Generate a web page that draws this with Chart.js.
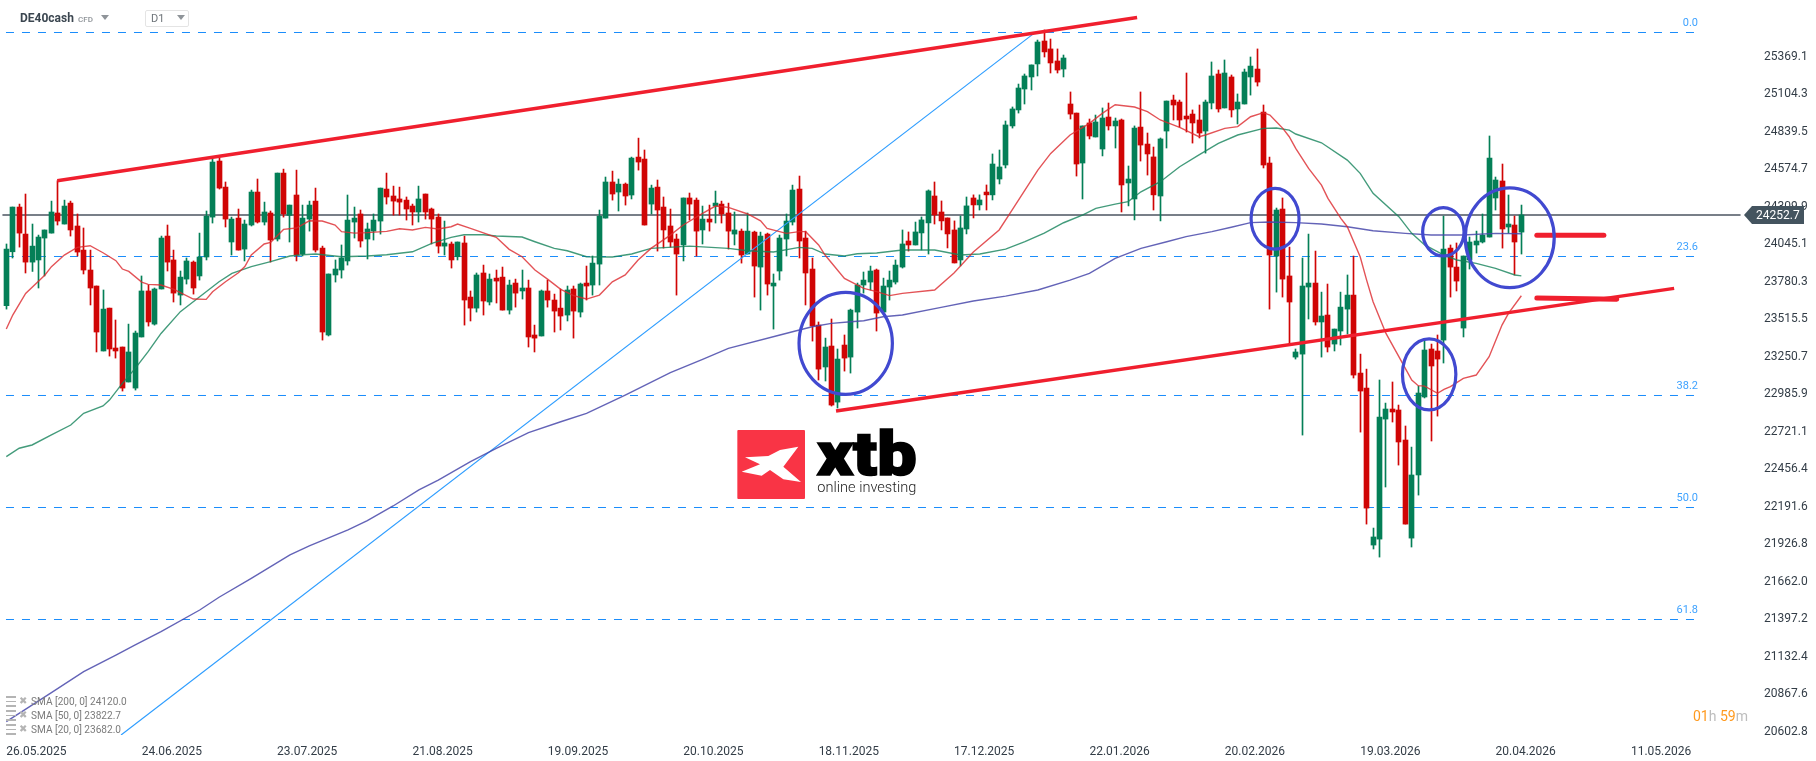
<!DOCTYPE html>
<html>
<head>
<meta charset="utf-8">
<title>DE40cash D1</title>
<script src="https://cdn.jsdelivr.net/npm/chart.js@4"></script>
<style>
  html, body { margin: 0; padding: 0; background: #fff; overflow: hidden; font-family: Roboto, sans-serif; }
  #wrap { position: relative; width: 1816px; height: 761px; }
  canvas { position: absolute; left: 0; top: 0; }
  .abs { position: absolute; white-space: nowrap; }
  .tri { position: absolute; width: 0; height: 0; border-left: 4px solid transparent; border-right: 4px solid transparent; border-top: 5px solid #8f9499; }
  .sma { position: absolute; left: 31px; font-size: 10.1px; line-height: 12px; color: #7b7b7b; white-space: nowrap; }
  .ico { position: absolute; left: 6px; width: 10px; height: 7px; border-top: 2px solid #b4b4b4; border-bottom: 2px solid #b4b4b4; background: linear-gradient(#b4b4b4, #b4b4b4) center / 100% 1px no-repeat; }
  .cross { position: absolute; left: 19px; font-size: 10px; line-height: 12px; color: #b4b4b4; }
</style>
</head>
<body>
<div id="wrap">
  <canvas id="chart" width="1816" height="761"></canvas>

  <div class="abs" style="left:20px;top:11px;font-size:12px;font-weight:700;color:#3b4650;">DE40cash</div>
  <div class="abs" style="left:78px;top:15px;font-size:8px;font-weight:500;color:#8f9499;">CFD</div>
  <div class="tri" style="left:101px;top:15px;"></div>
  <div class="abs" style="left:145px;top:10px;width:42px;height:15px;border:1px solid #e4e4e4;border-radius:2px;"></div>
  <div class="abs" style="left:151px;top:12px;font-size:11px;color:#6f757a;">D1</div>
  <div class="tri" style="left:177px;top:15px;"></div>

  <div class="ico" style="top:696px;"></div><div class="cross" style="top:695px;">✖</div>
  <div class="sma" style="top:696px;">SMA [200, 0] 24120.0</div>
  <div class="ico" style="top:710px;"></div><div class="cross" style="top:709px;">✖</div>
  <div class="sma" style="top:710px;">SMA [50, 0] 23822.7</div>
  <div class="ico" style="top:724px;"></div><div class="cross" style="top:723px;">✖</div>
  <div class="sma" style="top:724px;">SMA [20, 0] 23682.0</div>

  <div class="abs" style="left:1693px;top:707px;font-size:14px;line-height:18px;color:#bdbdbd;"><span style="color:#ff9a1f">01</span>h <span style="color:#ff9a1f">59</span>m</div>

  <svg class="abs" style="left:720px;top:420px;" width="220" height="90" viewBox="0 0 660 270">
    <rect x="52" y="30" width="203" height="207" rx="3" fill="#f93445"/>
    <polygon fill="#fff" points="235,80 190,140 243,186 190,178 150,150 125,167 65,155 120,133 75,112 145,108 180,90"/>
    <text x="291" y="165" font-family="Roboto, sans-serif" font-weight="900" font-size="182" textLength="299" lengthAdjust="spacingAndGlyphs" stroke="#000" stroke-width="5" fill="#000">xtb</text>
    <text x="292" y="216" font-family="Roboto, sans-serif" font-weight="300" font-size="44" textLength="297" lengthAdjust="spacingAndGlyphs" fill="#222">online investing</text>
  </svg>
</div>

<script>
const opens = [
  23612,23993,24309,24118,23920,23935,24090,24125,24267,24189,
  24337,24175,24005,23864,23751,23292,23595,23313,23320,23073,
  23030,23391,23716,23482,23730,24104,23935,23687,23800,23920,
  23822,23956,24238,24634,24450,24062,24231,24012,24182,24415,
  24203,24267,24083,24549,24250,24394,23977,24224,24351,24019,
  23405,23829,23864,23928,24203,24260,24083,24139,24210,24436,
  24387,24366,24358,24316,24274,24401,24295,24238,24033,24048,
  23958,24055,23673,23595,23843,23638,23807,23814,23581,23772,
  23716,23737,23405,23398,23716,23652,23595,23546,23730,23567,
  23772,23758,23906,24231,24486,24415,24471,24394,24662,24648,
  24330,24450,24309,24175,24083,24041,24373,24358,24147,24224,
  24316,24330,24267,24118,24139,23977,24132,23885,24118,23751,
  23857,24083,24203,24436,24090,23871,23475,23179,23327,22931,
  23334,23249,23567,23758,23779,23864,23567,23744,23779,23885,
  24069,24041,24126,24197,24387,24274,24232,24147,23935,24154,
  24373,24324,24415,24395,24507,24606,24882,24995,25143,25228,
  25320,25482,25426,25341,25284,25037,24973,24620,24903,24804,
  24719,24945,24882,24924,24479,24366,24874,24754,24663,24387,
  24846,25065,25051,24952,24966,24924,24846,25044,25249,25009,
  25228,25002,25037,25228,25284,24980,24620,23963,24295,23822,
  23249,23270,23744,23772,23497,23546,23341,23433,23588,23687,
  23136,23030,21921,21963,22811,22882,22875,22663,21970,22416,
  22967,23306,23292,23369,24019,23885,23454,23935,24041,24062,
  24097,24373,24493,24168,24182,24132
];
const highs = [
  24048,24309,24330,24401,24189,24111,24147,24351,24495,24358,
  24351,24260,24161,24005,23751,23723,23595,23511,23320,23482,
  23433,23822,23758,23737,24104,24182,24005,23857,23949,23928,
  24125,24281,24648,24655,24486,24238,24295,24217,24429,24507,
  24344,24281,24549,24577,24323,24570,24323,24351,24443,24033,
  23836,23935,24041,24394,24309,24288,24196,24260,24443,24549,
  24457,24450,24380,24330,24457,24401,24302,24260,24210,24062,
  24062,24104,23716,23843,23899,23836,23864,23885,23793,23800,
  23864,23793,23475,23723,23793,23694,23730,23751,23751,23772,
  23892,23963,24288,24521,24563,24507,24479,24662,24796,24712,
  24464,24500,24380,24295,24118,24373,24408,24373,24316,24323,
  24422,24351,24337,24274,24154,24267,24139,24132,24125,23836,
  24111,24260,24464,24528,24139,23949,23497,23383,23518,23306,
  23405,23588,23772,23850,23892,23871,23807,23857,23935,24147,
  24133,24203,24239,24430,24486,24352,24232,24211,24246,24380,
  24395,24395,24465,24684,24712,24917,25016,25178,25249,25313,
  25489,25560,25496,25426,25383,25122,24973,24882,24931,24959,
  25009,25044,24938,24931,24599,24882,25122,24832,24733,24797,
  25058,25100,25065,25256,24995,25030,25065,25334,25277,25348,
  25242,25108,25284,25369,25426,25030,24662,24302,24373,24026,
  23306,23949,24118,23998,23708,23765,23447,23708,23829,23963,
  23270,23164,22041,23087,22924,23073,22910,22762,22613,23044,
  23369,23341,23405,24245,24041,24055,23963,24097,24139,24260,
  24811,24521,24613,24394,24245,24323
];
const lows = [
  23588,23949,24026,23843,23854,23737,23822,24125,24182,24189,
  24104,23963,23836,23617,23285,23292,23256,23242,23009,23073,
  23016,23391,23468,23475,23730,23857,23638,23617,23765,23694,
  23793,23935,24196,24436,24168,23970,24005,23928,24175,24196,
  24182,23920,24069,24238,24062,23928,23963,24139,23991,23369,
  23398,23779,23807,23899,24090,24026,23942,24076,24118,24330,
  24252,24252,24217,24182,24203,24224,24048,23984,23970,23878,
  23935,23475,23504,23567,23546,23617,23631,23581,23553,23602,
  23659,23320,23285,23398,23602,23426,23440,23504,23383,23532,
  23652,23687,23758,24231,24358,24281,24323,24366,24570,24182,
  24260,23998,24019,24026,23687,23928,24217,23963,24048,24139,
  24196,24196,24012,24041,23913,23977,23673,23581,23687,23447,
  23793,23963,24182,23949,23617,23362,23087,23080,22903,22889,
  23150,23136,23454,23701,23723,23433,23567,23652,23765,23878,
  23998,24041,24006,23977,24189,24147,24020,23914,23893,24119,
  24232,24288,24288,24359,24472,24585,24867,24973,25037,25136,
  25235,25369,25256,25256,25228,24931,24528,24366,24790,24804,
  24670,24853,24726,24274,24317,24218,24634,24535,24288,24211,
  24726,24924,24874,24839,24761,24797,24690,25002,24980,25009,
  24945,24896,25037,25100,25164,24585,23588,23708,23673,23341,
  23235,22698,23518,23475,23249,23285,23292,23334,23412,23101,
  22719,22069,21893,21836,22331,22790,22486,22069,21907,22274,
  22960,22656,22832,23207,23673,23716,23391,23871,23984,24055,
  24097,24288,24019,24125,23829,23977
];
const closes = [
  24012,24309,24125,23920,24033,24097,24147,24274,24210,24316,
  24147,23991,23864,23737,23426,23588,23306,23292,23030,23285,
  23419,23716,23497,23730,24090,23920,23701,23814,23928,23737,
  23956,24245,24627,24443,24224,24224,24005,24189,24415,24203,
  24274,24076,24549,24260,24323,23970,24231,24323,24005,23426,
  23836,23871,23949,24217,24231,24069,24154,24217,24443,24380,
  24351,24344,24295,24274,24366,24274,24224,24033,24055,23935,
  24062,23652,23595,23829,23645,23800,23786,23581,23758,23701,
  23737,23391,23383,23716,23652,23574,23539,23723,23574,23765,
  23751,23913,24245,24486,24401,24471,24387,24655,24627,24182,
  24443,24288,24147,24062,23977,24373,24330,24139,24224,24203,
  24337,24260,24139,24147,23970,24139,23892,24104,23765,23772,
  24090,24210,24429,24069,23843,23468,23164,23320,22910,23235,
  23242,23581,23758,23793,23857,23560,23751,23793,23899,24048,
  24041,24133,24218,24423,24253,24211,24119,23914,24161,24317,
  24324,24359,24395,24613,24592,24889,25002,25150,25235,25313,
  25475,25405,25327,25277,25362,24966,24613,24882,24811,24910,
  24938,24882,24917,24465,24507,24867,24747,24684,24395,24790,
  25058,25030,24924,24931,24903,24832,25051,25235,25002,25256,
  24995,25051,25263,25305,25192,24606,23970,24288,23800,23638,
  23285,23751,23772,23497,23539,23320,23447,23602,23687,23122,
  23009,22182,21978,22825,22882,22861,22649,22069,22416,22995,
  23299,23186,23235,24012,23885,23786,23963,24062,24069,24111,
  24655,24500,24154,24189,24062,24253
];

// moving averages at the bars listed in the *Idx arrays
const sma20Idx = [0,1,3,6,7,9,11,13,15,17,18,19,21,22,24,26,29,31,32,34,36,37,38,40,41,43,45,47,49,51,52,54,56,59,61,63,65,67,69,70,72,76,78,80,82,84,86,88,90,92,94,96,98,100,103,105,108,110,112,115,117,118,121,123,124,126,127,130,133,135,137,139,144,147,150,154,156,158,160,162,165,168,170,172,175,177,179,182,185,186,189,191,193,195,196,197,198,199,200,202,204,205,207,208,210,211,212,214,216,218,219,220,222,223,224,226,228,230,232,233,235];
const sma20Values = [23447,23546,23699,23829,23888,23970,24024,24036,23986,23930,23871,23854,23779,23763,23758,23727,23659,23657,23711,23781,23845,23888,23970,24048,24059,24151,24161,24212,24210,24182,24135,24125,24128,24137,24156,24147,24165,24154,24170,24189,24158,24095,24010,23958,23864,23798,23727,23683,23659,23687,23781,23829,23935,24017,24111,24182,24264,24316,24307,24260,24212,24158,24123,24135,24135,24041,23970,23805,23734,23711,23683,23699,23723,23843,23991,24147,24288,24429,24570,24688,24818,24900,24971,25032,25016,24983,24924,24872,24806,24818,24865,24877,24947,24976,24959,24912,24865,24806,24723,24582,24464,24370,24229,24170,23958,23793,23640,23416,23252,23087,23047,23044,22993,23021,23040,23098,23122,23252,23475,23558,23682];

const sma50Idx = [0,2,4,7,10,12,15,16,18,20,22,24,27,30,33,35,38,41,44,46,48,52,56,59,63,66,69,71,74,76,80,82,85,87,90,94,97,100,106,112,115,119,123,125,127,130,132,135,139,144,148,151,155,158,161,164,167,169,172,174,176,179,182,185,188,191,195,197,199,200,204,208,210,212,216,218,220,223,225,228,231,234,235];
const sma50Values = [22546,22605,22628,22699,22769,22852,22904,22945,23063,23169,23287,23416,23570,23675,23781,23840,23888,23923,23963,23972,23977,23958,23963,23972,23993,24052,24095,24113,24113,24104,24097,24064,24017,24000,23958,23956,23977,24017,24033,24017,24000,23991,24024,24017,23977,23963,23979,23984,24005,24005,23970,23977,24012,24064,24125,24198,24253,24300,24330,24347,24417,24488,24594,24677,24759,24818,24865,24867,24853,24825,24763,24641,24547,24406,24241,24123,24041,23970,23935,23911,23876,23829,23823];

const sma200Idx = [0,7,12,17,20,24,30,33,38,44,47,53,56,60,64,67,72,76,81,86,90,96,103,108,112,120,123,125,128,131,133,136,139,145,150,155,160,165,168,172,176,180,183,187,190,193,196,200,204,208,212,217,221,226,231,235];
const sma200Values = [20673,20878,21027,21144,21215,21309,21462,21552,21686,21851,21915,22028,22093,22197,22310,22380,22510,22604,22715,22792,22851,22981,23139,23233,23310,23405,23440,23463,23487,23499,23506,23534,23546,23600,23645,23680,23723,23793,23840,23947,24017,24064,24100,24135,24166,24199,24203,24199,24189,24170,24142,24123,24111,24111,24123,24120];

const fibLevels = ['0.0', '23.6', '38.2', '50.0', '61.8'];
const fibPrices = [25542.2, 23959.6, 22977.6, 22186.2, 21394.9];
const lastPrice = 24252.7;

const yTicks = [25369.1,25104.3,24839.5,24574.7,24309.9,24045.1,23780.3,23515.5,23250.7,22985.9,22721.1,22456.4,22191.6,21926.8,21662.0,21397.2,21132.4,20867.6,20602.8];
const xTicks = [0,21,42,63,84,105,126,147,168,189,210,231,252];
const xLabels = ['26.05.2025','24.06.2025','23.07.2025','21.08.2025','19.09.2025','20.10.2025','18.11.2025','17.12.2025','22.01.2026','20.02.2026','19.03.2026','20.04.2026','11.05.2026'];

// hand drawn bits of the chart, [bar, price]
const upperTrend = [[7.9, 24495], [175.4, 25648]];
const lowerTrend = [[128.7, 22868], [258.7, 23734]];
const fibDiagonal = [[17.8, 20579], [159.6, 25543]];
const markOne = [[237.4, 24109], [247.8, 24109]];
const markTwo = [[237.4, 23666], [249.8, 23658]];
// [bar, price, radius in bars, radius in price]
const rings = [
  [130.2, 23346, 7.24, 360],
  [196.8, 24226, 3.72, 215],
  [222.9, 24134, 3.21, 171],
  [233.2, 24092, 6.9, 352],
  [220.7, 23127, 4.14, 251]
];

const GREEN = '#047f57';
const RED = '#d00505';
const candleColors = closes.map((c, i) => (c >= opens[i] ? GREEN : RED));

function zip(xs, ys) {
  return xs.map((x, i) => ({ x: x, y: ys[i] }));
}
function pts(pairs) {
  return pairs.map(p => ({ x: p[0], y: p[1] }));
}
function lineSet(data, color, width, order, extra) {
  return Object.assign({
    type: 'line', data: data, borderColor: color, borderWidth: width,
    pointRadius: 0, tension: 0, order: order
  }, extra || {});
}
// the axes must not push the plot area in, it fills the page up to the labels
function noPadding(scale) {
  scale.paddingTop = 0;
  scale.paddingBottom = 0;
  scale.paddingLeft = 0;
  scale.paddingRight = 0;
}

const datasets = [
  lineSet(pts([[-0.6, lastPrice], [269, lastPrice]]), '#4b5560', 1.4, 20),
  {
    type: 'bar', order: 12, barThickness: 1, grouped: false,
    data: candleColors.map((c, i) => ({ x: i, y: [lows[i], highs[i]] })),
    backgroundColor: candleColors
  },
  {
    type: 'bar', order: 11, barThickness: 5, grouped: false,
    data: candleColors.map((c, i) => ({ x: i, y: [opens[i], closes[i]] })),
    backgroundColor: candleColors
  },
  lineSet(pts(fibDiagonal), '#2e9dff', 1.2, 8),
  lineSet(zip(sma200Idx, sma200Values), 'rgba(72,72,170,0.85)', 1.4, 7),
  lineSet(zip(sma50Idx, sma50Values), 'rgba(20,130,90,0.8)', 1.4, 6),
  lineSet(zip(sma20Idx, sma20Values), 'rgba(220,40,45,0.8)', 1.4, 5),
  lineSet(pts(upperTrend), '#f01f2e', 3.4, 2),
  lineSet(pts(lowerTrend), '#f01f2e', 3.4, 2),
  lineSet(pts(markOne), '#f01f2e', 5, 1, { borderCapStyle: 'round' }),
  lineSet(pts(markTwo), '#f01f2e', 5, 1, { borderCapStyle: 'round' })
];
fibPrices.forEach(p => {
  datasets.push(lineSet(pts([[-0.05, p], [262.56, p]]), '#1b8dfb', 1, 15, { borderDash: [8, 8] }));
});

// bars on whole pixels so the wicks stay sharp
const snapBars = {
  id: 'snapBars',
  beforeDatasetDraw(chart, args) {
    if (args.meta.type !== 'bar') return;
    args.meta.data.forEach(b => { b.x = Math.floor(b.x) + 0.5; });
  }
};

const extras = {
  id: 'extras',
  afterDraw(chart) {
    const ctx = chart.ctx;
    const x = chart.scales.x;
    const y = chart.scales.y;
    ctx.save();

    ctx.strokeStyle = '#4149d0';
    ctx.lineWidth = 3.2;
    rings.forEach(r => {
      const cx = x.getPixelForValue(r[0]);
      const cy = y.getPixelForValue(r[1]);
      const rx = x.getPixelForValue(r[0] + r[2]) - cx;
      const ry = cy - y.getPixelForValue(r[1] + r[3]);
      ctx.beginPath();
      ctx.ellipse(cx, cy, rx, ry, 0, 0, Math.PI * 2);
      ctx.stroke();
    });

    ctx.font = '11px Roboto';
    ctx.fillStyle = '#3ea2ff';
    ctx.textAlign = 'right';
    ctx.textBaseline = 'middle';
    fibLevels.forEach((name, i) => {
      ctx.fillText(name, x.getPixelForValue(262.4), y.getPixelForValue(fibPrices[i]) - 9);
    });

    // last price tag
    const ty = Math.round(y.getPixelForValue(lastPrice));
    ctx.fillStyle = '#44545f';
    ctx.beginPath();
    ctx.moveTo(1744, ty);
    ctx.lineTo(1752, ty - 9);
    ctx.lineTo(1804, ty - 9);
    ctx.lineTo(1804, ty + 9);
    ctx.lineTo(1752, ty + 9);
    ctx.closePath();
    ctx.fill();
    ctx.font = '12px Roboto';
    ctx.fillStyle = '#fff';
    ctx.textAlign = 'left';
    ctx.fillText(lastPrice.toFixed(1), 1756, ty + 1);
    ctx.restore();
  }
};

new Chart(document.getElementById('chart'), {
  type: 'bar',
  data: { datasets: datasets },
  plugins: [snapBars, extras],
  options: {
    responsive: false,
    animation: false,
    events: [],
    layout: { padding: 0, autoPadding: false },
    plugins: { legend: { display: false }, tooltip: { enabled: false } },
    scales: {
      x: {
        type: 'linear',
        offset: false,
        min: -0.977,
        max: 269.69,
        grid: { display: false, offset: false },
        border: { display: false },
        afterBuildTicks(scale) { scale.ticks = xTicks.map(v => ({ value: v })); },
        afterFit(scale) { scale.height = 26; noPadding(scale); },
        ticks: {
          autoSkip: false,
          maxRotation: 0,
          align: 'start',
          padding: 2,
          color: '#333d47',
          font: { family: 'Roboto', size: 12 },
          callback: v => xLabels[xTicks.indexOf(v)]
        }
      },
      y: {
        position: 'right',
        min: 20578.9,
        max: 25771.8,
        grid: { display: false },
        border: { display: false },
        afterBuildTicks(scale) { scale.ticks = yTicks.map(v => ({ value: v })); },
        afterFit(scale) { scale.width = 71; noPadding(scale); },
        ticks: {
          autoSkip: false,
          padding: 11,
          color: '#333d47',
          font: { family: 'Roboto', size: 12 },
          callback: v => v.toFixed(1)
        }
      }
    }
  }
});
</script>
</body>
</html>
